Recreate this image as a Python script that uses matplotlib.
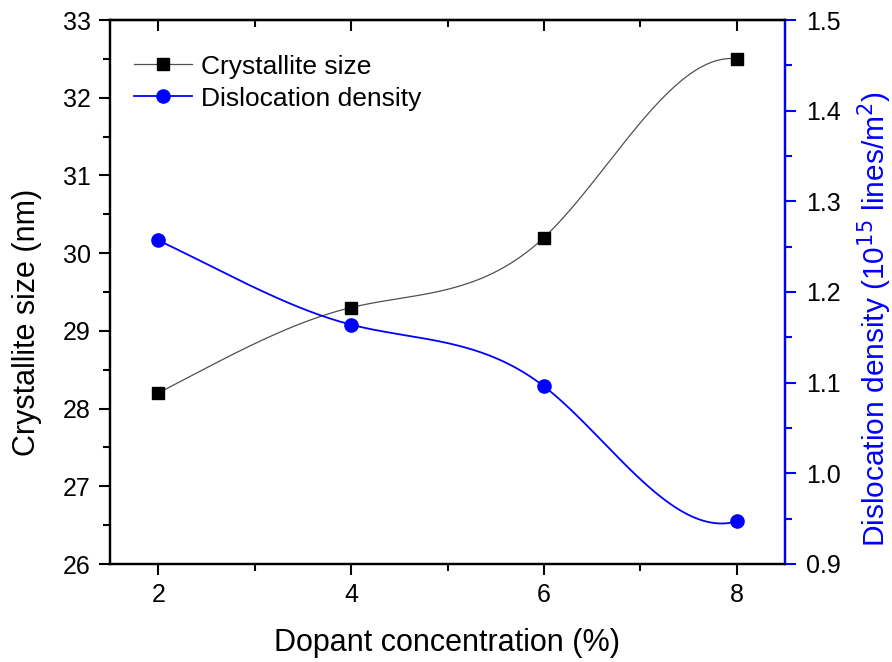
import numpy as np
import matplotlib.pyplot as plt
from matplotlib.ticker import MultipleLocator, FormatStrFormatter

plt.rcParams['font.family'] = ['Liberation Sans', 'DejaVu Sans']

# values
concentration = [2, 4, 6, 8]
crystallite_size = [28.2, 29.3, 30.2, 32.5]          # nm, left axis
dislocation_density = [1.257, 1.164, 1.096, 0.947]  # 10^15 lines/m^2, right axis

# end slopes of the smooth connecting line (Origin style spline)
cs_end_slopes = (0.64, -0.15)
dd_end_slopes = (-0.05, 0.03)


def clamped_spline(x, y, d0, dn, n=300):
    x = np.asarray(x, float)
    y = np.asarray(y, float)
    k = len(x)
    h = np.diff(x)
    A = np.zeros((k, k))
    b = np.zeros(k)
    A[0, 0] = 1
    b[0] = d0
    A[-1, -1] = 1
    b[-1] = dn
    for i in range(1, k - 1):
        A[i, i - 1] = 1 / h[i - 1]
        A[i, i] = 2 * (1 / h[i - 1] + 1 / h[i])
        A[i, i + 1] = 1 / h[i]
        b[i] = 3 * ((y[i] - y[i - 1]) / h[i - 1] ** 2 + (y[i + 1] - y[i]) / h[i] ** 2)
    d = np.linalg.solve(A, b)
    xs = np.linspace(x[0], x[-1], n)
    idx = np.clip(np.searchsorted(x, xs) - 1, 0, k - 2)
    hh = h[idx]
    t = (xs - x[idx]) / hh
    h00 = 2 * t**3 - 3 * t**2 + 1
    h10 = t**3 - 2 * t**2 + t
    h01 = -2 * t**3 + 3 * t**2
    h11 = t**3 - t**2
    ys = h00 * y[idx] + h10 * hh * d[idx] + h01 * y[idx + 1] + h11 * hh * d[idx + 1]
    return xs, ys


fig = plt.figure(figsize=(8.92, 6.62), dpi=100)
ax = fig.add_axes([110 / 892, 1 - 564 / 662, 675 / 892, 544 / 662])
ax2 = ax.twinx()

blue = '#0000FF'

xs, ys = clamped_spline(concentration, crystallite_size, *cs_end_slopes)
ax.plot(xs, ys, color='#505050', lw=0.9)
ax.plot(concentration, crystallite_size, 's', color='black', ms=9)

xs, ys = clamped_spline(concentration, dislocation_density, *dd_end_slopes)
ax2.plot(xs, ys, color=blue, lw=1.3)
ax2.plot(concentration, dislocation_density, 'o', color=blue, ms=9.5)

ax.set_xlim(1.5, 8.5)
ax.set_ylim(26, 33)
ax2.set_ylim(0.9, 1.5)

ax.xaxis.set_major_locator(MultipleLocator(2))
ax.xaxis.set_minor_locator(MultipleLocator(1))
ax.yaxis.set_major_locator(MultipleLocator(1))
ax.yaxis.set_minor_locator(MultipleLocator(0.5))
ax2.yaxis.set_major_locator(MultipleLocator(0.1))
ax2.yaxis.set_minor_locator(MultipleLocator(0.05))
ax2.yaxis.set_major_formatter(FormatStrFormatter('%.1f'))

for a in (ax, ax2):
    for s in a.spines.values():
        s.set_linewidth(1.6)
ax2.spines['right'].set_color(blue)

ax.tick_params(axis='both', which='major', direction='out', length=8, width=1.5,
               labelsize=18, pad=6)
ax.tick_params(axis='both', which='minor', direction='out', length=5, width=1.5)
ax2.tick_params(axis='y', which='major', direction='out', length=8, width=1.5,
                color=blue, labelsize=18, labelcolor='black', pad=7)
ax2.tick_params(axis='y', which='minor', direction='out', length=5, width=1.5, color=blue)

# top axis: ticks pointing inwards, no labels
top = ax.secondary_xaxis('top')
top.xaxis.set_major_locator(MultipleLocator(2))
top.xaxis.set_minor_locator(MultipleLocator(1))
top.tick_params(which='major', direction='in', length=8, width=1.5, labeltop=False)
top.tick_params(which='minor', direction='in', length=5, width=1.5)
top.spines['top'].set_linewidth(1.6)

ax.set_xlabel('Dopant concentration (%)', fontsize=22)
ax.set_ylabel('Crystallite size (nm)', fontsize=22)
ax2.set_ylabel('Dislocation density (10$^{15}$ lines/m$^2$)', fontsize=21.5, color=blue)
ax.xaxis.set_label_coords(0.5, -0.118)
ax.yaxis.set_label_coords(-0.10, 0.445)
ax2.yaxis.set_label_coords(1.104, 0.45)

h1, = ax.plot([], [], '-s', color='#505050', lw=0.9, ms=9,
              markerfacecolor='black', markeredgecolor='black')
h2, = ax.plot([], [], '-o', color=blue, lw=1.3, ms=9.5)
ax2.legend([h1, h2], ['Crystallite size', 'Dislocation density'], loc='upper left',
           frameon=False, fontsize=19, handlelength=2.2, handletextpad=0.35,
           labelspacing=0.3, bbox_to_anchor=(0.0, 0.98))

fig.savefig('out.png', dpi=100)
